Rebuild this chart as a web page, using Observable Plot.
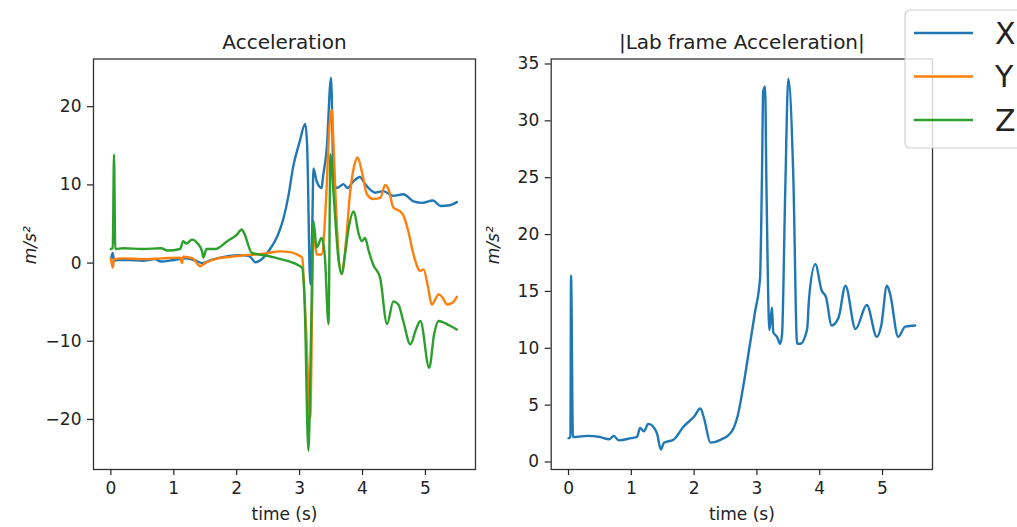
<!DOCTYPE html>
<html>
<head>
<meta charset="utf-8">
<script src="https://cdn.jsdelivr.net/npm/d3@7"></script>
<script src="https://cdn.jsdelivr.net/npm/@observablehq/plot@0.6"></script>
<style>
  html, body { margin: 0; padding: 0; background: #fff; }
  #wrap { position: relative; width: 1017px; height: 527px; overflow: hidden; font-family: "DejaVu Sans", sans-serif; }
  #wrap > svg { position: absolute; top: 0; }
</style>
</head>
<body>
<div id="wrap"></div>
<script>
// ---------- data ----------
const seriesNames = ["X", "Y", "Z"];
const seriesColors = ["#1f77b4", "#ff7f0e", "#2ca02c"];

const tX = [0, 0.03, 0.05, 0.1, 0.3, 0.5, 0.7, 0.8, 1.0, 1.2, 1.35, 1.45, 1.6, 1.8, 2.0, 2.1, 2.2, 2.3, 2.4, 2.53, 2.65, 2.74, 2.82, 2.9, 3.0, 3.09, 3.12, 3.17, 3.2, 3.22, 3.27, 3.35, 3.37, 3.43, 3.5, 3.54, 3.59, 3.7, 3.76, 3.85, 3.96, 4.04, 4.12, 4.2, 4.33, 4.49, 4.65, 4.81, 4.95, 5.12, 5.24, 5.39, 5.5];
const aX = [0.5, 1.3, 0.3, 0.4, 0.4, 0.3, 0.5, 0.2, 0.4, 0.6, 0.3, 0.0, 0.4, 0.8, 1.0, 1.0, 0.9, 0.1, 0.5, 1.8, 3.5, 5.6, 8.5, 12.4, 15.5, 17.8, 15.0, -2.7, 4.0, 12.1, 10.5, 9.6, 10.9, 14.5, 23.7, 10.9, 9.6, 10.1, 9.6, 10.4, 11.0, 10.1, 9.4, 9.0, 9.2, 8.6, 8.8, 7.9, 7.7, 8.0, 7.3, 7.4, 7.8];

const tY = [0, 0.03, 0.05, 0.2, 0.5, 0.8, 1.1, 1.13, 1.15, 1.3, 1.42, 1.5, 1.7, 1.9, 2.1, 2.3, 2.5, 2.69, 2.85, 2.96, 3.04, 3.1, 3.17, 3.2, 3.22, 3.27, 3.35, 3.42, 3.47, 3.51, 3.54, 3.57, 3.67, 3.74, 3.8, 3.87, 3.92, 3.99, 4.07, 4.17, 4.28, 4.36, 4.42, 4.49, 4.6, 4.65, 4.73, 4.81, 4.92, 4.97, 5.04, 5.1, 5.21, 5.28, 5.34, 5.44, 5.5];
const aY = [0.6, -0.6, 0.5, 0.6, 0.5, 0.6, 0.7, 0.0, 0.8, 0.6, -0.4, 0.0, 0.6, 0.8, 1.0, 1.1, 1.3, 1.5, 1.4, 1.1, 0.7, -8.0, -19.8, -5.0, 4.1, 1.1, 1.1, 8.0, 17.0, 19.6, 15.0, 8.8, -1.4, 3.0, 8.8, 12.5, 13.5, 11.7, 8.8, 8.2, 8.3, 10.0, 9.3, 7.1, 6.6, 6.1, 4.0, 1.1, -1.0, -0.8, -3.0, -5.3, -4.0, -4.5, -5.3, -5.0, -4.3];

const tZ = [0, 0.03, 0.05, 0.07, 0.2, 0.5, 0.8, 0.9, 1.1, 1.15, 1.2, 1.29, 1.38, 1.45, 1.47, 1.52, 1.66, 1.85, 2.0, 2.08, 2.12, 2.24, 2.5, 2.7, 2.96, 3.04, 3.08, 3.14, 3.18, 3.22, 3.27, 3.35, 3.4, 3.46, 3.49, 3.54, 3.62, 3.67, 3.72, 3.78, 3.86, 3.94, 3.99, 4.04, 4.1, 4.17, 4.28, 4.39, 4.49, 4.57, 4.65, 4.76, 4.85, 4.92, 5.06, 5.14, 5.21, 5.34, 5.5];
const aZ = [1.8, 1.9, 13.9, 1.8, 1.9, 1.8, 1.9, 1.6, 1.8, 2.8, 2.5, 3.0, 2.5, 1.5, 0.7, 1.8, 1.8, 2.8, 3.6, 4.3, 3.8, 1.3, 0.9, 0.5, -0.2, -0.6, -5.0, -24.0, -10.0, 5.4, 2.0, 3.2, 1.0, -7.8, 13.9, 8.8, 0.3, -1.4, 1.0, 4.5, 6.6, 3.7, 2.8, 3.2, 1.5, -0.2, -1.9, -7.8, -4.9, -5.3, -7.5, -10.4, -8.5, -7.4, -13.4, -9.0, -7.4, -7.8, -8.5];

const tMag = [0, 0.03, 0.04, 0.07, 0.1, 0.3, 0.5, 0.65, 0.72, 0.8, 1.0, 1.09, 1.14, 1.2, 1.27, 1.35, 1.41, 1.47, 1.52, 1.67, 1.83, 2.0, 2.1, 2.16, 2.26, 2.42, 2.6, 2.7, 2.79, 2.89, 2.97, 3.05, 3.08, 3.1, 3.13, 3.15, 3.2, 3.24, 3.26, 3.32, 3.37, 3.4, 3.45, 3.5, 3.58, 3.64, 3.69, 3.8, 3.83, 3.93, 4.03, 4.1, 4.19, 4.3, 4.41, 4.57, 4.75, 4.91, 4.98, 5.07, 5.12, 5.25, 5.36, 5.52];
const aMag = [2.1, 2.2, 16.4, 2.2, 2.2, 2.3, 2.2, 2.0, 2.3, 1.9, 2.1, 2.2, 3.0, 2.7, 3.35, 3.1, 2.5, 1.1, 1.7, 1.95, 3.1, 4.0, 4.7, 3.8, 1.7, 1.95, 2.7, 4.2, 6.9, 10.4, 13.2, 16.2, 25.0, 32.6, 33.0, 25.0, 11.6, 13.6, 11.4, 11.0, 10.4, 11.2, 23.6, 33.7, 25.0, 10.4, 10.4, 11.7, 14.4, 17.4, 15.1, 14.5, 12.0, 12.7, 15.5, 11.7, 13.8, 11.0, 12.0, 15.5, 14.8, 11.0, 11.9, 12.0];

const xTicks = [0, 1, 2, 3, 4, 5];
const yTicksLeft = [-20, -10, 0, 10, 20];
const yTicksRight = [0, 5, 10, 15, 20, 25, 30, 35];

const titleLeft = "Acceleration";
const titleRight = "|Lab frame Acceleration|";
const xLabel = "time (s)";
const yLabel = "m/s²";

// ---------- helpers ----------
const toRows = (ts, vs) => ts.map((t, i) => ({t, v: vs[i]}));
const fmt = d3.format("d");
const baseStyle = {fontFamily: "DejaVu Sans, sans-serif", fontSize: "17px", color: "#222", background: "transparent", overflow: "visible"};
const xDomain = [-0.276, 5.796];

function panel({width, marginLeft, marginRight, yDomain, yTicks, lines, title, ylabelDx}) {
  return Plot.plot({
    width, height: 527,
    marginLeft, marginRight, marginTop: 58.5, marginBottom: 58,
    style: baseStyle,
    x: {domain: xDomain},
    y: {domain: yDomain},
    marks: [
      ...lines.map(({rows, color}) => Plot.line(rows, {x: "t", y: "v", stroke: color, strokeWidth: 2.4, strokeLinejoin: "round", curve: "monotone-x"})),
      Plot.frame({stroke: "#333", strokeWidth: 1.3}),
      Plot.axisX({ticks: xTicks, tickFormat: fmt, tickSize: 6, tickPadding: 6, label: null, strokeWidth: 1.2}),
      Plot.axisY({ticks: yTicks, tickFormat: fmt, tickSize: 6, tickPadding: 6, label: null, strokeWidth: 1.2}),
      Plot.text([title], {frameAnchor: "top", dy: -16, text: d => d, fontSize: 20, lineAnchor: "middle"}),
      Plot.text([xLabel], {frameAnchor: "bottom", dy: 45, text: d => d, fontSize: 17, lineAnchor: "middle"}),
      Plot.text([yLabel], {frameAnchor: "left", dx: ylabelDx, rotate: -90, text: d => d, fontSize: 17, fontStyle: "italic", lineAnchor: "middle"})
    ]
  });
}

const left = panel({
  width: 500, marginLeft: 93, marginRight: 25,
  yDomain: [-26.4, 26.1], yTicks: yTicksLeft,
  lines: [
    {rows: toRows(tX, aX), color: seriesColors[0]},
    {rows: toRows(tY, aY), color: seriesColors[1]},
    {rows: toRows(tZ, aZ), color: seriesColors[2]}
  ],
  title: titleLeft, ylabelDx: -63
});
left.style.left = "0px";

const right = panel({
  width: 517, marginLeft: 50.7, marginRight: 85,
  yDomain: [-0.66, 35.44], yTicks: yTicksRight,
  lines: [{rows: toRows(tMag, aMag), color: seriesColors[0]}],
  title: titleRight, ylabelDx: -58
});
right.style.left = "500px";

const wrap = document.getElementById("wrap");
wrap.appendChild(left);
wrap.appendChild(right);

// ---------- legend ----------
const leg = d3.create("svg").attr("width", 1017).attr("height", 527).style("left", "0px").style("pointer-events", "none");
leg.append("rect").attr("x", 905).attr("y", 10).attr("width", 140).attr("height", 138).attr("rx", 5)
  .attr("fill", "#fff").attr("fill-opacity", 0.8).attr("stroke", "#d0d0d0").attr("stroke-width", 1.2);
const items = leg.selectAll("g").data(seriesNames).join("g")
  .attr("transform", (d, i) => `translate(0,${33 + i * 43.5})`);
items.append("line").attr("x1", 914).attr("x2", 973).attr("y1", 0).attr("y2", 0)
  .attr("stroke", (d, i) => seriesColors[i]).attr("stroke-width", 2.4);
items.append("text").attr("x", 995).attr("y", 0).attr("dy", "0.36em").text(d => d)
  .attr("font-family", "DejaVu Sans, sans-serif").attr("font-size", 30).attr("fill", "#222");
wrap.appendChild(leg.node());
</script>
</body>
</html>
